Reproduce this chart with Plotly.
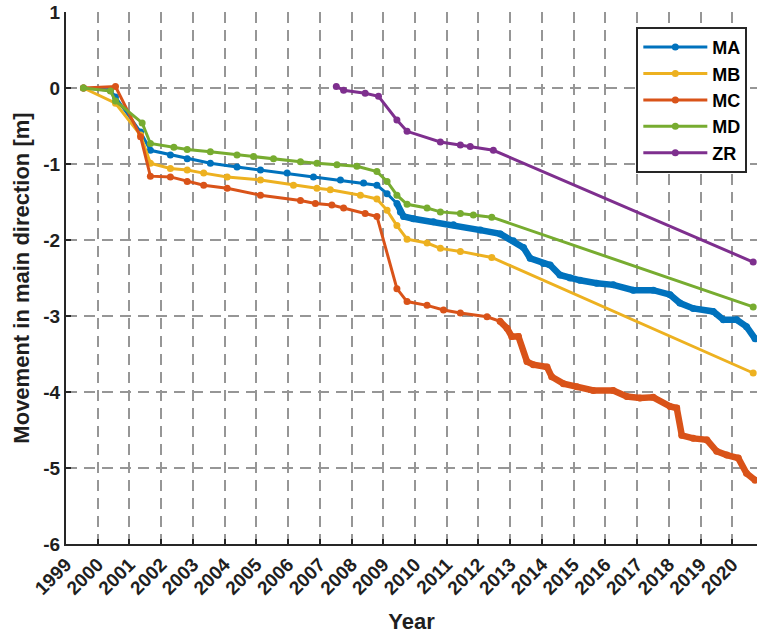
import plotly.graph_objects as go

# ---------------- data ----------------
ma_year = [1999.55, 2000.40, 2000.56, 2001.35, 2001.66, 2002.29, 2002.82, 2003.55, 2004.39,
           2005.13, 2005.97, 2006.80, 2007.65, 2008.38, 2008.80, 2009.12, 2009.43, 2009.54,
           2009.64, 2009.95, 2010.58, 2011.21, 2012.06, 2012.69, 2013.10, 2013.42, 2013.63,
           2014.05, 2014.26, 2014.57, 2014.89, 2015.20, 2015.73, 2016.25, 2016.88, 2017.51,
           2018.04, 2018.35, 2018.77, 2019.40, 2019.72, 2020.14, 2020.45, 2020.72]
ma_val = [0.00, -0.03, -0.12, -0.58, -0.82, -0.88, -0.93, -0.99, -1.04,
          -1.08, -1.12, -1.17, -1.21, -1.25, -1.28, -1.39, -1.52, -1.63,
          -1.69, -1.72, -1.76, -1.80, -1.87, -1.92, -2.01, -2.10, -2.24,
          -2.31, -2.33, -2.46, -2.50, -2.53, -2.57, -2.59, -2.66, -2.66,
          -2.72, -2.83, -2.90, -2.94, -3.05, -3.05, -3.14, -3.30]

mb_year = [1999.55, 2000.56, 2001.35, 2001.66, 2002.29, 2002.82, 2003.34, 2004.08, 2005.13,
           2006.17, 2006.91, 2007.33, 2008.28, 2008.80, 2009.12, 2009.43, 2009.75, 2010.38,
           2010.80, 2011.43, 2012.42, 2020.66]
mb_val = [0.00, -0.20, -0.62, -0.99, -1.06, -1.08, -1.12, -1.17, -1.21,
          -1.28, -1.32, -1.34, -1.41, -1.46, -1.61, -1.81, -1.99, -2.04,
          -2.11, -2.15, -2.23, -3.75]

mc_year = [1999.55, 2000.56, 2001.35, 2001.66, 2002.29, 2002.82, 2003.34, 2004.08, 2005.13,
           2006.39, 2006.86, 2007.38, 2007.75, 2008.43, 2008.80, 2009.43, 2009.75, 2010.38,
           2010.90, 2011.43, 2012.27, 2012.68, 2012.90, 2013.05, 2013.26, 2013.53, 2013.73,
           2014.16, 2014.31, 2014.68, 2015.10, 2015.62, 2016.25, 2016.68, 2017.09, 2017.51,
           2018.04, 2018.25, 2018.41, 2018.77, 2019.20, 2019.51, 2019.83, 2020.19, 2020.45,
           2020.72]
mc_val = [0.00, 0.02, -0.64, -1.16, -1.17, -1.23, -1.28, -1.32, -1.41,
          -1.48, -1.52, -1.54, -1.58, -1.65, -1.69, -2.64, -2.81, -2.86,
          -2.92, -2.96, -3.01, -3.07, -3.16, -3.27, -3.27, -3.60, -3.64,
          -3.67, -3.80, -3.89, -3.93, -3.98, -3.98, -4.06, -4.08, -4.07,
          -4.19, -4.21, -4.57, -4.61, -4.63, -4.78, -4.83, -4.87, -5.07,
          -5.16]

md_year = [1999.55, 2000.40, 2000.56, 2001.40, 2001.66, 2002.40, 2002.82, 2003.55, 2004.39,
           2004.91, 2005.54, 2006.39, 2006.91, 2007.54, 2008.17, 2008.80, 2009.12, 2009.43,
           2009.75, 2010.38, 2010.80, 2011.43, 2011.84, 2012.42, 2020.66]
md_val = [0.00, -0.04, -0.17, -0.46, -0.73, -0.78, -0.81, -0.84, -0.88,
          -0.90, -0.93, -0.97, -0.99, -1.01, -1.03, -1.10, -1.23, -1.41,
          -1.53, -1.58, -1.63, -1.65, -1.67, -1.70, -2.88]

zr_year = [2007.52, 2007.75, 2008.43, 2008.85, 2009.43, 2009.75, 2010.80, 2011.43, 2011.74,
           2012.47, 2020.66]
zr_val = [0.02, -0.03, -0.07, -0.11, -0.42, -0.57, -0.71, -0.75, -0.77,
          -0.82, -2.29]

series_names = ["MA", "MB", "MC", "MD", "ZR"]
# year from which the record is densely sampled (drawn as a thick band)
dense_from = [2009.4, None, 2012.6, None, None]

x_tick_vals = list(range(1999, 2021))
x_tick_labels = [str(y) for y in x_tick_vals]
y_tick_vals = [1, 0, -1, -2, -3, -4, -5, -6]
y_tick_labels = ["1", "0", "-1", "-2", "-3", "-4", "-5", "-6"]

colors = ["#0072BD", "#EDB120", "#D95319", "#77AC30", "#7E2F8E"]
xs = [ma_year, mb_year, mc_year, md_year, zr_year]
ys = [ma_val, mb_val, mc_val, md_val, zr_val]

FONT = "Liberation Sans, Arial, sans-serif"
TXT = "#1f1f1f"

fig = go.Figure()
for name, x, y, c, d in zip(series_names, xs, ys, colors, dense_from):
    if d is not None:
        xd = [a for a in x if a >= d]
        yd = [b for a, b in zip(x, y) if a >= d]
        fig.add_trace(go.Scatter(x=xd, y=yd, mode="lines", legendgroup=name,
                                 showlegend=False, hoverinfo="skip",
                                 line=dict(color=c, width=6.5)))
    fig.add_trace(go.Scatter(x=x, y=y, mode="lines+markers", name=name, legendgroup=name,
                             line=dict(color=c, width=3),
                             marker=dict(color=c, size=7)))

axis_common = dict(
    automargin=False,
    showline=True, linecolor="#262626", linewidth=2, mirror=False,
    ticks="inside", ticklen=5, tickwidth=1.5, tickcolor="#262626",
    showgrid=True, gridcolor="#969696", gridwidth=2, griddash="11px,7px",
    zeroline=False, ticklabeloverflow="allow",
    tickfont=dict(family=FONT, size=19, color=TXT, weight="bold"),
)

fig.update_xaxes(range=[1999, 2020.78], tickmode="array", tickvals=x_tick_vals,
                 ticktext=x_tick_labels, tickangle=-45,
                 title=dict(text="<b>Year</b>", font=dict(family=FONT, size=22, color=TXT),
                            standoff=16),
                 **axis_common)
fig.update_yaxes(range=[-6, 1], tickmode="array", tickvals=y_tick_vals,
                 ticktext=y_tick_labels,
                 title=dict(text="<b>Movement in main direction [m]</b>",
                            font=dict(family=FONT, size=22, color=TXT), standoff=8),
                 **axis_common)

fig.update_layout(
    width=757, height=636,
    margin=dict(l=66, r=0, t=12, b=92, autoexpand=False),
    paper_bgcolor="white", plot_bgcolor="white",
    showlegend=True,
    legend=dict(x=0.986, y=0.972, xanchor="right", yanchor="top",
                bgcolor="white", bordercolor="#262626", borderwidth=2,
                font=dict(family=FONT, size=18, color="black", weight="bold"),
                itemwidth=64, tracegroupgap=0),
)

# remove the default page margin so the figure sits at the window's corner
fig.write_html("out.html", config={"displayModeBar": False},
               post_script="document.body.style.margin='0';document.body.style.overflow='hidden';")
